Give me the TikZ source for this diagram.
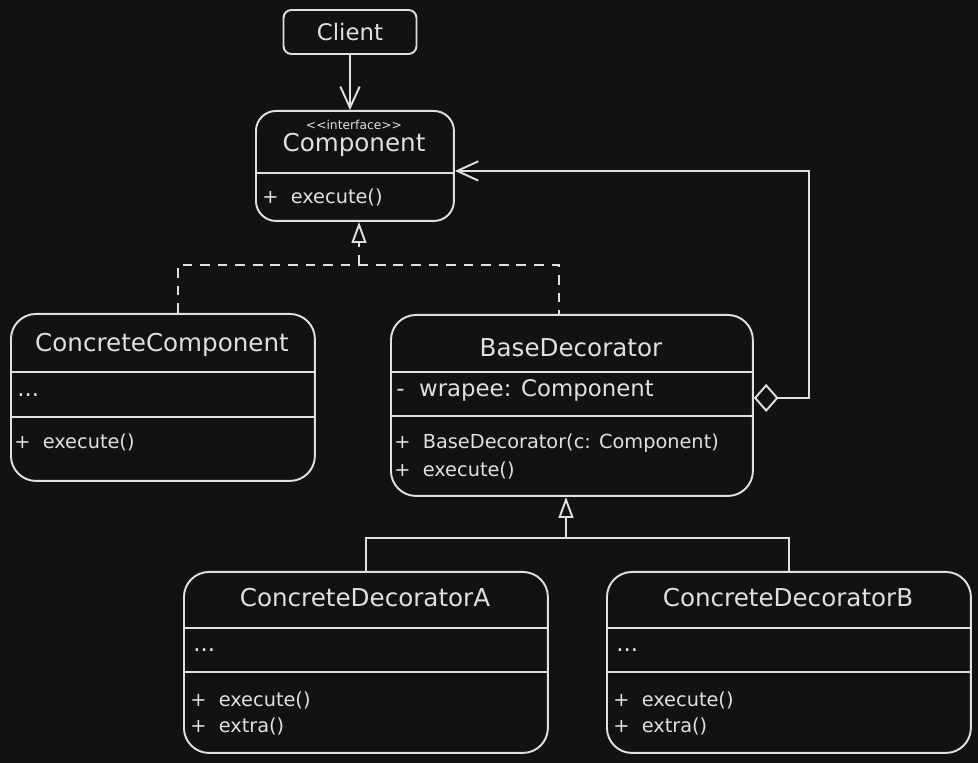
\documentclass[tikz,border=0pt]{standalone}
\usepackage{fontspec}
\setmainfont{DejaVu Sans}
\usetikzlibrary{arrows.meta,positioning}
\definecolor{bg}{HTML}{121212}
\definecolor{ink}{HTML}{E0E0E0}

\begin{document}
\begin{tikzpicture}[
  x=0.02cm, y=-0.02cm,
  class/.style={draw=ink, line width=1.1pt, rounded corners=0.5cm, anchor=north west, inner sep=0pt},
  title/.style={text=ink, font=\fontsize{14}{16}\selectfont},
  member/.style={text=ink, anchor=west, inner sep=0pt, font=\fontsize{11}{13}\selectfont},
  attr/.style={member, font=\fontsize{13}{15}\selectfont},
  sep/.style={draw=ink, line width=1.1pt},
  link/.style={draw=ink, line width=1.1pt},
  uses/.style={link, -{Straight Barb[length=12pt, width=11pt]}},
  realizes/.style={link, dash pattern=on 5.5pt off 4.5pt},
  extends/.style={link},
  hollow/.style={-{Triangle[open, length=12pt, width=8.5pt]}},
]
  \fill[bg] (0,0) rectangle (978,763);

  \node[class, anchor=center, rounded corners=0.16cm, minimum width=2.66cm, minimum height=0.88cm, text=ink, font=\fontsize{13}{15}\selectfont] (client) at (350,32) {Client};

  \node[class, rounded corners=0.4cm, minimum width=3.96cm, minimum height=2.2cm] (comp) at (255,110) {};
  \node[text=ink, font=\fontsize{7}{8}\selectfont] (stereo) at (354,125) {<\kern0pt<interface>\kern0pt>};
  \node[title] (compname) at (354,145) {Component};
  \draw[sep] (comp.west |- 0,173) -- (comp.east |- 0,173);
  \node[member] (compexec) at (262,197) {+ \ execute()};

  \node[class, minimum width=6.08cm, minimum height=3.34cm] (cc) at (10,313) {};
  \node[title] (ccname) at (162,345) {ConcreteComponent};
  \draw[sep] (cc.west |- 0,372) -- (cc.east |- 0,372);
  \node[attr] (ccattr) at (17,395) {...};
  \draw[sep] (cc.west |- 0,417) -- (cc.east |- 0,417);
  \node[member] (ccexec) at (14,442) {+ \ execute()};

  \node[class, minimum width=7.24cm, minimum height=3.62cm] (bd) at (390,314) {};
  \node[title] (bdname) at (571,348) {BaseDecorator};
  \draw[sep] (bd.west |- 0,372) -- (bd.east |- 0,372);
  \node[attr] (wrapee) at (396,390) {- \ wrapee: Component};
  \draw[sep] (bd.west |- 0,416) -- (bd.east |- 0,416);
  \node[member] (bdctor) at (394,443) {+ \ BaseDecorator(c: Component)};
  \node[member] (bdexec) at (394,470) {+ \ execute()};

  \node[class, minimum width=7.28cm, minimum height=3.62cm] (cda) at (183,571) {};
  \node[title] (cdaname) at (365,598) {ConcreteDecoratorA};
  \draw[sep] (cda.west |- 0,628) -- (cda.east |- 0,628);
  \node[attr] (cdaattr) at (193,650) {...};
  \draw[sep] (cda.west |- 0,672) -- (cda.east |- 0,672);
  \node[member] (cdaexec) at (190,700) {+ \ execute()};
  \node[member] (cdaextra) at (190,726) {+ \ extra()};

  \node[class, minimum width=7.28cm, minimum height=3.62cm] (cdb) at (606,571) {};
  \node[title] (cdbname) at (788,598) {ConcreteDecoratorB};
  \draw[sep] (cdb.west |- 0,628) -- (cdb.east |- 0,628);
  \node[attr] (cdbattr) at (616,650) {...};
  \draw[sep] (cdb.west |- 0,672) -- (cdb.east |- 0,672);
  \node[member] (cdbexec) at (613,700) {+ \ execute()};
  \node[member] (cdbextra) at (613,726) {+ \ extra()};

  \draw[uses] (client.south) -- (client.south |- comp.north);

  \coordinate (rjoin) at (359,265);
  \draw[realizes] ([xshift=0.3cm]cc.north) |- (rjoin) -| ([xshift=-0.26cm]bd.north);
  \draw[realizes, hollow] (rjoin) -- (rjoin |- comp.south);

  \coordinate (gjoin) at (566,538);
  \draw[extends] (cda.north) |- (gjoin) -| (cdb.north);
  \draw[extends, hollow] (gjoin) -- (gjoin |- bd.south);

  \draw[link, {Diamond[open, length=14pt, width=16pt]}-{Straight Barb[length=12pt, width=11pt]}] ([yshift=0.15cm]bd.east) -- ++(1.1cm,0) |- ([yshift=-0.1cm]comp.east);
\end{tikzpicture}
\end{document}
